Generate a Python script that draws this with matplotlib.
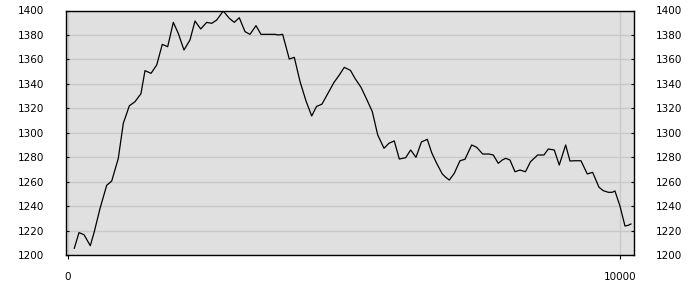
import numpy as np
import matplotlib
matplotlib.use("Agg")
import matplotlib.pyplot as plt

# distance vs. value
dist = [114, 199, 290, 404, 476, 580, 701, 792, 911, 1002,
        1111, 1214, 1322, 1395, 1504, 1607, 1708, 1806, 1908, 1998,
        2101, 2210, 2301, 2404, 2513, 2603, 2694, 2813, 2922, 3013,
        3103, 3207, 3297, 3406, 3496, 3623, 3750, 3810, 3889, 4009,
        4100, 4203, 4312, 4415, 4502, 4601, 4710, 4819, 4915, 5005,
        5118, 5199, 5308, 5411, 5513, 5611, 5725, 5815, 5911, 6002,
        6118, 6208, 6304, 6404, 6509, 6589, 6679, 6781, 6842, 6908,
        6998, 7101, 7192, 7313, 7404, 7513, 7627, 7705, 7795, 7868,
        7929, 8007, 8098, 8188, 8288, 8379, 8509, 8623, 8701, 8810,
        8900, 9016, 9094, 9185, 9293, 9408, 9505, 9620, 9698, 9788,
        9861, 9909, 10000, 10091, 10150, 10199]
elev = [1205.5, 1218.3, 1216.6, 1207.6, 1219, 1238, 1257, 1260.5, 1279, 1307.7,
        1322, 1325.4, 1332, 1350.8, 1348.6, 1355.4, 1372.3, 1370.4, 1390.3, 1381.3,
        1367.7, 1375.9, 1391.4, 1384.9, 1390.3, 1389.5, 1392.2, 1399.6, 1393.6, 1390.3,
        1394.1, 1382.7, 1380.5, 1387.6, 1380.5, 1380.5, 1380.5, 1380, 1380.5, 1360.3,
        1361.7, 1342, 1326, 1313.7, 1321.5, 1323.4, 1332.3, 1341.2, 1347.2, 1353.5,
        1351, 1344.5, 1337.2, 1327.4, 1317.3, 1298.2, 1287.3, 1291.4, 1293.3, 1278.5,
        1279.6, 1285.9, 1279.9, 1292.5, 1294.6, 1283.7, 1275, 1266.3, 1263.6, 1261.3,
        1266.8, 1277.1, 1278.3, 1290, 1288.1, 1282.6, 1282.6, 1281.8, 1275, 1277.7,
        1279.1, 1277.7, 1268.1, 1269.5, 1268.1, 1276.3, 1281.8, 1281.8, 1286.7, 1285.9,
        1273.6, 1290, 1276.9, 1277.1, 1277.1, 1266.3, 1267.6, 1255.4, 1252.6, 1251.3,
        1251.3, 1252.4, 1240, 1223.7, 1224.3, 1225.4]

y_ticks = list(range(1200, 1401, 20))
x_ticks = [0, 10000]

fig = plt.figure(figsize=(7, 3), dpi=100)
ax = fig.add_axes([0.0943, 0.15, 0.8114, 0.815])
ax.set_facecolor('#e0e0e0')

ax.plot(dist, elev, color='black', linewidth=0.9, zorder=3)

ax.set_xlim(-36, 10254)
ax.set_ylim(1200, 1400)
ax.set_yticks(y_ticks)
ax.set_xticks(x_ticks)

# horizontal grid + vertical line at tick positions
ax.grid(True, axis='y', color='#c8c8c8', linewidth=1)
ax.grid(True, axis='x', color='#c8c8c8', linewidth=1)
ax.set_axisbelow(True)

ax.tick_params(axis='y', direction='in', length=2, width=0.8,
               labelsize=7.5, pad=16, left=True, right=True,
               labelleft=True, labelright=True, colors='black')
ax.tick_params(axis='x', direction='out', length=3, width=0.8,
               labelsize=7.5, pad=9, colors='black')

for s in ax.spines.values():
    s.set_color('black')
    s.set_linewidth(1)

fig.savefig('out.png', dpi=100)
